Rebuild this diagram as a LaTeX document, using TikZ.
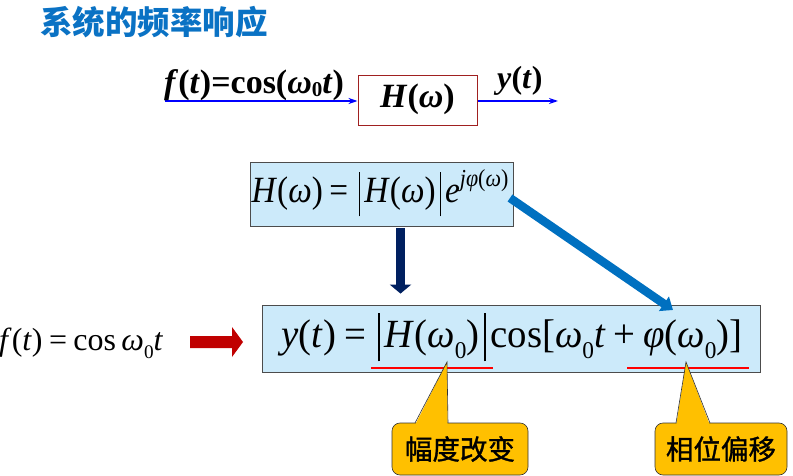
\documentclass[tikz,border=0pt]{standalone}
\usepackage{fontspec}
\setmainfont{Liberation Serif}
\newfontfamily\cjk{Noto Sans CJK SC}
\newfontfamily\cjkm{Noto Sans CJK SC}[FakeBold=1.2]
\usetikzlibrary{arrows.meta,calc}
\newcommand\mysub[1]{\raisebox{-0.28em}{\scalebox{0.6}{#1}}}
\newcommand\mysup[1]{\raisebox{0.45em}{\scalebox{0.66}{#1}}}
\newcommand\vbar{\hspace{0.12em}\raisebox{-0.36em}{\rule{0.045em}{1.2em}}\hspace{0.12em}}
\newcommand\rel[1]{\hspace{0.2em}#1\hspace{0.2em}}
\definecolor{titleblue}{RGB}{10,114,196}
\definecolor{boxfill}{RGB}{204,234,250}
\definecolor{hred}{RGB}{160,32,32}
\definecolor{navy}{RGB}{0,32,96}
\definecolor{blockred}{RGB}{192,0,0}
\definecolor{callout}{RGB}{255,192,0}
\definecolor{diagblue}{RGB}{0,112,192}
\tikzset{
  sig/.style={draw=blue, line width=1.4pt, -{Stealth[length=9pt,width=6pt]}},
  formbox/.style={draw=black!70, fill=boxfill, line width=0.8pt, inner sep=0pt},
  ftext/.style={anchor=base, inner sep=0pt},
  callbox/.style={draw=black!80, fill=callout, rounded corners=8pt, line width=0.6pt,
    minimum height=52pt, inner sep=0pt,
    font=\cjkm\fontsize{27.5}{30}\selectfont},
  uline/.style={draw=red, line width=1.4pt},
}
\begin{document}
\begin{tikzpicture}[x=1pt,y=-1pt]
\useasboundingbox (0,0) rectangle (793,476);
% title
\node[anchor=west, text=titleblue, font=\cjk\bfseries\fontsize{32.5}{35}\selectfont, inner sep=0pt] (title) at (40,22) {系统的频率响应};
% top system
\node[draw=hred, line width=1pt, minimum width=119pt, minimum height=50pt, inner sep=0pt] (hbox) at (417.5,101) {};
\node[ftext, font=\bfseries\fontsize{34}{36}\selectfont] (htext) at (417.5,108) {\textit{H}(\textit{ω})};
\coordinate (in) at (165,101);
\coordinate (out) at (558,101);
\draw[sig] (in) -- (hbox.west);
\draw[sig] (hbox.east) -- (out);
\node[anchor=base west, inner sep=0pt, font=\bfseries\fontsize{34}{36}\selectfont] (fin) at (164,94)
  {\textit{f}(\textit{t})=cos(\textit{ω}\raisebox{-0.08em}{\scalebox{0.62}{0}}\textit{t})};
\node[anchor=base west, inner sep=0pt, font=\bfseries\fontsize{32}{34}\selectfont] (yout) at (497,89)
  {\textit{y}(\textit{t})};
% box 1
\node[formbox, minimum width=263pt, minimum height=64pt] (b1) at (381.5,194) {};
\node[ftext, font=\fontsize{37}{40}\selectfont] (b1t) at (380,203)
  {\scalebox{0.9}[1]{\textit{H}(\textit{ω})\rel{=}\vbar\textit{H}(\textit{ω})\vbar\textit{e}\mysup{\textit{jφ}(\textit{ω})}}};
% box 2
\node[formbox, minimum width=498pt, minimum height=67pt] (b2) at (511,338.5) {};
\node[ftext, font=\fontsize{40}{44}\selectfont] (b2t) at (512,347)
  {\scalebox{0.97}[1]{\textit{y}(\textit{t})\rel{=}\vbar\textit{H}(\textit{ω}\mysub{0})\vbar cos[\textit{ω}\mysub{0}\textit{t}\rel{+}\textit{φ}(\textit{ω}\mysub{0})]}};
% left formula
\node[anchor=base west, inner sep=0pt, font=\fontsize{32}{36}\selectfont] (fl) at (-1,350)
  {\textit{f}(\textit{t})\rel{=}cos\,\textit{ω}\mysub{0}\textit{t}};
% red block arrow
\fill[blockred] (190,336) -- (232,336) -- (232,327) -- (243,342) -- (232,357) -- (232,348) -- (190,348) -- cycle;
% navy down arrow
\draw[navy, line width=9pt, -{Triangle[length=9pt,width=21pt]}, shorten <=2pt, shorten >=11pt]
  ([xshift=19pt]b1.south) -- ([xshift=-110.5pt]b2.north);
% diagonal blue arrow
\coordinate (dstart) at (510,198);
\draw[diagblue, line width=8.5pt, -{Triangle[length=11pt,width=17pt]}] (dstart) -- (673,310);
% underlines
\draw[uline] (371,368) -- (493,368);
\draw[uline] (627,368) -- (749,368);
% callouts
\node[callbox, minimum width=136pt] (c1) at (460,449) {幅度改变};
\node[callbox, minimum width=132pt] (c2) at (721,449) {相位偏移};
\fill[callout] (415.3,424.5) -- (447,362) -- (447.7,424.5) -- cycle;
\draw[black!80, line width=0.6pt] (415,423) -- (447,362) -- (448,423);
\fill[callout] (676.3,424.5) -- (686,362) -- (709.7,424.5) -- cycle;
\draw[black!80, line width=0.6pt] (676,423) -- (686,362) -- (710,423);
\end{tikzpicture}
\end{document}
